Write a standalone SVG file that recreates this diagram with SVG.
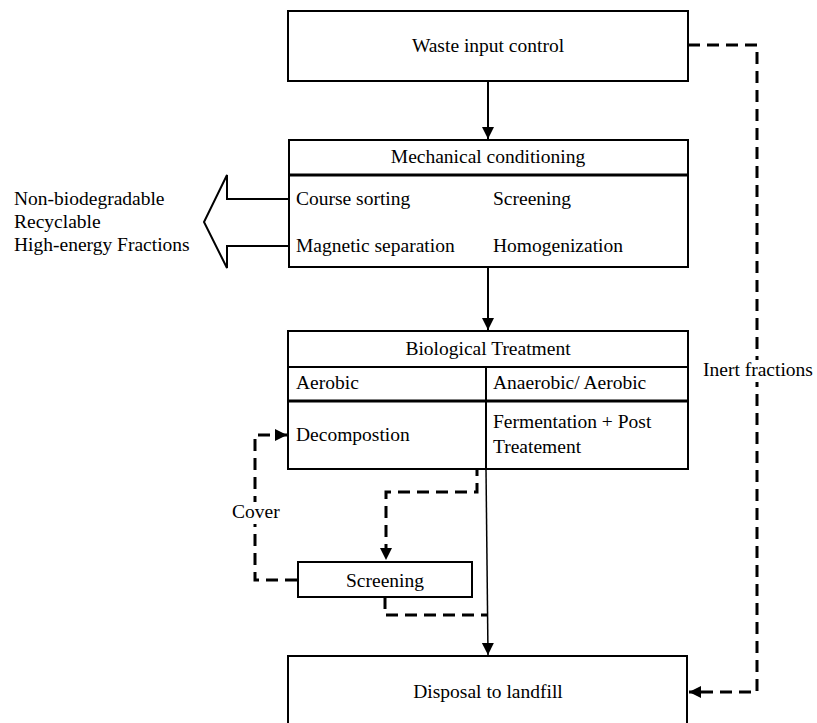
<svg xmlns="http://www.w3.org/2000/svg" width="817" height="723" viewBox="0 0 817 723">
<style>
text{font-family:"Liberation Serif","Times New Roman",serif;font-size:19.5px;fill:#000}
.box{fill:#fff;stroke:#000;stroke-width:2}
.sep{stroke:#000;stroke-width:3}
.solid{fill:none;stroke:#000;stroke-width:2}
.thin{fill:none;stroke:#000;stroke-width:1.5}
.dash{fill:none;stroke:#000;stroke-width:3;stroke-dasharray:12 7}
.c{text-anchor:middle}
</style>
<defs>
<marker id="ah" markerWidth="12" markerHeight="14" refX="12" refY="7" orient="auto" markerUnits="userSpaceOnUse" viewBox="0 0 12 14">
<path d="M0,1 L12,7 L0,13 Z" fill="#000"/>
</marker>
</defs>
<g id="connectors">
<line class="solid" x1="488" y1="81" x2="488" y2="139" marker-end="url(#ah)"/>
<line class="solid" x1="488" y1="267" x2="488" y2="330" marker-end="url(#ah)"/>
<line class="thin" x1="486" y1="469" x2="488" y2="655" marker-end="url(#ah)"/>
<path class="dash" d="M486,435 H477 V492 H386 V560" marker-end="url(#ah)"/>
<path class="dash" d="M297,580 H255 V435 H287" marker-end="url(#ah)"/>
<path class="dash" d="M385,597 V615 H488"/>
<path class="dash" d="M688,45 H757 V692 H689" marker-end="url(#ah)"/>
<rect x="228" y="502" width="56" height="22" fill="#fff"/>
<rect x="700" y="360" width="117" height="22" fill="#fff"/>
<text x="232" y="518">Cover</text>
<text x="703" y="376">Inert fractions</text>
</g>
<g id="waste-input">
<rect class="box" x="288" y="11" width="400" height="70"/>
<text class="c" x="488" y="52">Waste input control</text>
</g>
<g id="mechanical">
<rect class="box" x="289" y="140" width="399" height="127"/>
<line class="sep" x1="289" y1="175" x2="688" y2="175"/>
<text class="c" x="488" y="163">Mechanical conditioning</text>
<text x="296" y="205">Course sorting</text>
<text x="493" y="205">Screening</text>
<text x="296" y="252">Magnetic separation</text>
<text x="493" y="252">Homogenization</text>
</g>
<g id="outputs">
<path class="solid" d="M289,199 H227 V175 L204,222 L227,268 V246 H289"/>
<text x="14" y="205">Non-biodegradable</text>
<text x="14" y="228">Recyclable</text>
<text x="14" y="251">High-energy Fractions</text>
</g>
<g id="biological">
<rect class="box" x="288" y="331" width="400" height="138"/>
<line class="solid" x1="288" y1="367" x2="688" y2="367"/>
<line class="sep" x1="288" y1="401" x2="688" y2="401"/>
<line class="solid" x1="486" y1="367" x2="486" y2="469"/>
<text class="c" x="488" y="355">Biological Treatment</text>
<text x="296" y="389">Aerobic</text>
<text x="493" y="389">Anaerobic/ Aerobic</text>
<text x="296" y="441">Decompostion</text>
<text x="493" y="428">Fermentation + Post</text>
<text x="493" y="453">Treatement</text>
</g>
<g id="screening">
<rect class="box" x="298" y="562" width="174" height="35"/>
<text class="c" x="385" y="587">Screening</text>
</g>
<g id="landfill">
<rect class="box" x="288" y="656" width="399" height="80"/>
<text class="c" x="488" y="698">Disposal to landfill</text>
</g>
</svg>
